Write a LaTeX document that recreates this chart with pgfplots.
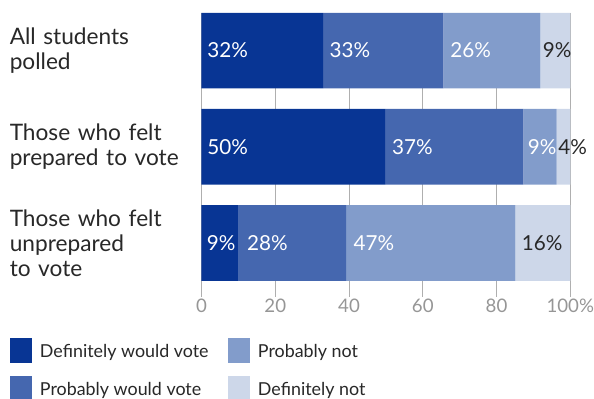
\documentclass[border=0pt]{standalone}
\usepackage{fontspec}
\setmainfont{Lato}
\usepackage{pgfplots}
\usepackage{pgfplotstable}
\pgfplotsset{compat=1.18}
\definecolor{cDark}{RGB}{8,53,148}
\definecolor{cMed}{RGB}{69,103,175}
\definecolor{cLight}{RGB}{130,156,203}
\definecolor{cPale}{RGB}{205,215,233}
\definecolor{gridgray}{RGB}{175,175,175}
\definecolor{tickgray}{RGB}{150,150,150}
\definecolor{txt}{RGB}{40,40,40}

% segment widths (percent), rows: 0 = all, 1 = prepared, 2 = unprepared
\pgfplotstableread{
y  dv    pv    pn    dn
0  33.0  32.6  26.3  8.1
1  49.8  37.5  9.0   3.7
2  10.1  29.1  45.9  14.9
}\segs

% label positions (percent) and texts
\pgfplotstableread{
x    y  lab
1.5  0  32\%
34.7 0  33\%
67.4 0  26\%
1.5  1  50\%
51.6 1  37\%
88.4 1  9\%
1.4  2  9\%
12.3 2  28\%
41.2 2  47\%
}\labw
\pgfplotstableread{
x    y  lab
92.5 0  9\%
96.7 1  4\%
86.8 2  16\%
}\labd

\begin{document}
\begin{tikzpicture}
\pgfplotsset{
  common/.style={
    at={(0,0)}, anchor=south west,
    scale only axis, width=276.6pt, height=213pt,
    xmin=0, xmax=100, ymin=-0.39, ymax=2.561, y dir=reverse,
  },
}
\begin{axis}[
  common,
  xbar stacked, bar width=0.785,
  ytick={0,1,2},
  yticklabels={{All students\\polled},{Those who felt\\prepared to vote},{Those who felt\\unprepared\\to vote}},
  yticklabel style={anchor=east, align=left, text width=143.6pt, inner sep=0pt,
    font=\fontsize{17}{18.75}\selectfont, text=txt},
  xtick={0,20,40,60,80,100},
  xticklabels={0,20,40,60,80,100\%},
  xticklabel style={anchor=north, inner sep=0pt, yshift=-1.5pt,
    font=\fontsize{14}{16}\selectfont, text=tickgray},
  xmajorgrids, grid style={color=gridgray, line width=0.75pt},
  axis line style={draw=none}, tick style={draw=none},
  legend style={at={(axis description cs:-0.5193,-0.1444)}, anchor=north west,
    draw=none, inner sep=0pt, outer sep=0pt, row sep=10pt,
    nodes={inner sep=0pt}, font=\fontsize{13.4}{15}\selectfont, text=txt,
    legend columns=2,
    /tikz/every odd column/.append style={column sep=6.2pt}},
  transpose legend,
  legend cell align=left,
  legend image code/.code={\fill[#1] (0pt,-7.75pt) rectangle (16.3pt,10.75pt);},
]
\addplot[fill=cDark, draw=none] table[x=dv, y=y] {\segs};
\addlegendentry{\makebox[141pt][l]{Definitely would vote}}
\addplot[fill=cMed, draw=none] table[x=pv, y=y] {\segs};
\addlegendentry{\makebox[141pt][l]{Probably would vote}}
\addplot[fill=cLight, draw=none] table[x=pn, y=y] {\segs};
\addlegendentry{Probably not}
\addplot[fill=cPale, draw=none] table[x=dn, y=y] {\segs};
\addlegendentry{Definitely not}
\end{axis}
\begin{axis}[
  common, hide axis,
  nodes near coords, point meta=explicit symbolic,
  nodes near coords align=horizontal,
  every node near coord/.append style={anchor=west, inner sep=0pt,
    font=\fontsize{15.5}{17}\selectfont},
]
\addplot[draw=none, mark=none, every node near coord/.append style={text=white}]
  table[x=x, y=y, meta=lab] {\labw};
\addplot[draw=none, mark=none, every node near coord/.append style={text=txt}]
  table[x=x, y=y, meta=lab] {\labd};
\end{axis}
\pgfresetboundingbox
\path (-151.125pt,-76.5pt) rectangle (294.375pt,222.75pt);
\end{tikzpicture}
\end{document}
